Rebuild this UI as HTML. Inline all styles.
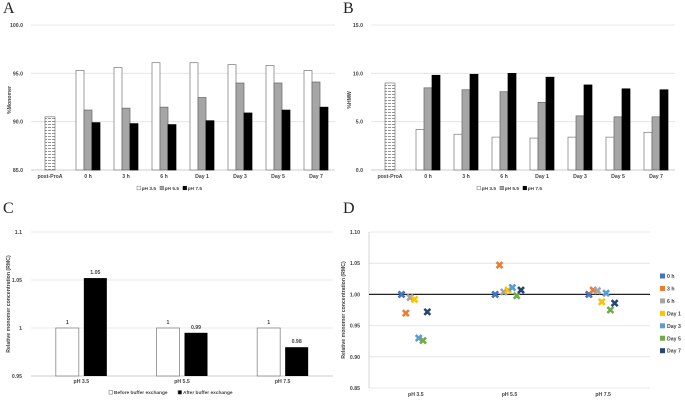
<!DOCTYPE html>
<html><head><meta charset="utf-8"><style>
body{margin:0;background:#fff;}
svg{display:block;font-family:"Liberation Sans",sans-serif;}
.t{font-size:5.2px;font-weight:bold;fill:#444;}
.lt{font-size:4.8px;font-weight:bold;fill:#444;}
.L{font-family:"Liberation Serif",serif;font-size:16px;fill:#222;}
</style></head><body>
<svg id="fig" width="685" height="400" viewBox="0 0 685 400">
<defs>
<pattern id="hatch" width="4" height="3" patternUnits="userSpaceOnUse"><rect width="4" height="3" fill="#fff"/><line x1="0" y1="1.5" x2="3" y2="1.5" stroke="#666" stroke-width="0.7"/></pattern>
</defs>
<text class="L" x="3" y="13">A</text>
<text class="L" x="343" y="13">B</text>
<text class="L" x="3" y="213">C</text>
<text class="L" x="343" y="213">D</text>
</svg>
<script>
const timeCats=["post-ProA","0 h","3 h","6 h","Day 1","Day 3","Day 5","Day 7"];
const postProA_A=[90.5];
const monoPH35=[95.3,95.6,96.1,96.1,95.9,95.8,95.3];
const monoPH55=[91.2,91.4,91.5,92.5,94.0,94.0,94.1];
const monoPH75=[89.9,89.8,89.7,90.1,90.9,91.2,91.5];
const ticksA=["85.0","90.0","95.0","100.0"];
const postProA_B=[9.0];
const hmwPH35=[4.2,3.7,3.4,3.3,3.4,3.4,3.9];
const hmwPH55=[8.5,8.3,8.1,7.0,5.6,5.5,5.5];
const hmwPH75=[9.8,9.9,10.0,9.6,8.8,8.4,8.3];
const ticksB=["0.0","5.0","10.0","15.0"];
const phCats=["pH 3.5","pH 5.5","pH 7.5"];
const beforeEx=[1,1,1];
const afterEx=[1.052,0.995,0.980];
const afterLabels=["1.05","0.99","0.98"];
const ticksC=["0.95","1","1.05","1.1"];
const dSeries=["0 h","3 h","6 h","Day 1","Day 3","Day 5","Day 7"];
const dColors=["#4472C4","#ED7D31","#A5A5A5","#FFC000","#5B9BD5","#70AD47","#264478"];
const dPH35=[1.000,0.970,0.995,0.992,0.930,0.926,0.972];
const dPH55=[1.000,1.047,1.004,1.007,1.011,0.998,1.007];
const dPH75=[1.000,1.007,1.006,0.988,1.002,0.975,0.986];
const ticksD=["0.85","0.90","0.95","1.00","1.05","1.10"];

const svg=document.getElementById('fig');
const NS="http://www.w3.org/2000/svg";
function el(tag,attrs,parent){const e=document.createElementNS(NS,tag);for(const k in attrs)e.setAttribute(k,attrs[k]);(parent||svg).appendChild(e);return e;}
function txt(s,x,y,anchor,parent,cls){const e=el('text',{x:x,y:y,'text-anchor':anchor||'middle',class:cls||'t'},parent);e.textContent=s;return e;}

function barPanel(ox,name,yMin,yMax,ticks,post,s1,s2,s3,title){
  const g=el('g',{});
  
  
  const L=ox+31,R=ox+335,T=25,B=170;
  const y=v=>B-(v-yMin)/(yMax-yMin)*(B-T);
  ticks.forEach(t=>{const v=parseFloat(t);
    const gl=el('line',{x1:L,x2:R,y1:y(v),y2:y(v),stroke:v===yMin?'#bbb':'#e0e0e0','stroke-width':0.8},g);
    
    
    const tl=txt(t,L-8,y(v)+2,'end',g);
    
    });
  const cw=(R-L)/timeCats.length;
  const cx=i=>L+cw*(i+0.5);
  timeCats.forEach((c,i)=>{const e=txt(c,cx(i),178,'middle',g);
    
    });
  const bw=8;
  const pb=el('rect',{x:cx(0)-bw/2-1,y:y(post[0]),width:bw+2,height:B-y(post[0]),fill:'url(#hatch)',stroke:'#666','stroke-width':0.6},g);
  
  
  const styles=[['#fff','#777'],['#a6a6a6','#666'],['#000','#000']];
  [s1,s2,s3].forEach((s,k)=>{s.forEach((v,i)=>{
    const x=cx(i+1)-1.5*bw+k*bw;
    const r=el('rect',{x:x,y:y(v),width:bw,height:B-y(v),fill:styles[k][0],stroke:styles[k][1],'stroke-width':0.7},g);
    
    });});
  const yt=el('text',{x:0,y:0,class:'t',transform:`translate(${ox+11},100) rotate(-90)`,'text-anchor':'middle'},g);
  yt.textContent=title;
  
  
  const lx=ox+137, ly=190, names=["pH 3.5","pH 5.5","pH 7.5"];
  names.forEach((n,k)=>{
    const lg=el('g',{},g);
    
    
    el('rect',{x:lx+k*23,y:ly-3.8,width:3.6,height:3.6,fill:styles[k][0],stroke:styles[k][1],'stroke-width':0.5},lg);
    txt(n,lx+k*23+4.6,ly,'start',lg,'lt');});
}
barPanel(0,'monomer-chart',85,100,ticksA,postProA_A,monoPH35,monoPH55,monoPH75,'%Monomer');
barPanel(340,'hmw-chart',0,15,ticksB,postProA_B,hmwPH35,hmwPH55,hmwPH75,'%HMW');

// Panel C
(function(){
  const g=el('g',{});
  
  
  const L=31,R=333,T=232,B=376,yMin=0.95,yMax=1.1;
  const y=v=>B-(v-yMin)/(yMax-yMin)*(B-T);
  ticksC.forEach(t=>{const v=parseFloat(t);
    const gl=el('line',{x1:L,x2:R,y1:y(v),y2:y(v),stroke:v===yMin?'#bbb':'#e0e0e0','stroke-width':0.8},g);
    
    
    const tl=txt(t,L-9,y(v)+2,'end',g);
    
    });
  const cw=(R-L)/phCats.length, cx=i=>L+cw*(i+0.5), bw=23;
  phCats.forEach((c,i)=>{
    const xl=txt(c,cx(i),383,'middle',g);
    
    
    const b1=el('rect',{x:cx(i)-bw-2.5,y:y(beforeEx[i]),width:bw,height:B-y(beforeEx[i]),fill:'#fff',stroke:'#777','stroke-width':0.7},g);
    
    
    const b2=el('rect',{x:cx(i)+2.5,y:y(afterEx[i]),width:bw,height:B-y(afterEx[i]),fill:'#000'},g);
    
    
    const v1=txt(String(beforeEx[i]),cx(i)-bw/2-2.5,y(beforeEx[i])-4,'middle',g);
    
    
    const v2=txt(afterLabels[i],cx(i)+bw/2+2.5,y(afterEx[i])-4,'middle',g);
    
    
  });
  const yt=el('text',{x:0,y:0,class:'t',transform:'translate(10,304) rotate(-90)','text-anchor':'middle'},g);
  yt.textContent='Relative monomer concentration (RMC)';
  
  
  [['Before buffer exchange','#fff',109],['After buffer exchange','#000',178]].forEach(a=>{
    const lg=el('g',{},g);
    
    
    el('rect',{x:a[2],y:390.5,width:3.6,height:3.6,fill:a[1],stroke:'#666','stroke-width':0.5},lg);
    txt(a[0],a[2]+5,394,'start',lg,'lt');});
})();

// Panel D
(function(){
  const g=el('g',{});
  
  
  const L=369,R=650,T=232,B=388,yMin=0.85,yMax=1.10;
  const y=v=>B-(v-yMin)/(yMax-yMin)*(B-T);
  ticksD.forEach(t=>{const v=parseFloat(t);
    const gl=el('line',{x1:L,x2:R,y1:y(v),y2:y(v),stroke:'#e0e0e0','stroke-width':0.8},g);
    
    
    const tl=txt(t,L-9,y(v)+2,'end',g);
    
    });
  const ax=el('line',{x1:L,x2:L,y1:T,y2:B,stroke:'#ccc','stroke-width':0.8},g);
  
  
  const ref=el('line',{x1:L,x2:R,y1:y(1),y2:y(1),stroke:'#222','stroke-width':1.3},g);
  
  
  const cw=(R-L)/phCats.length, cx=i=>L+cw*(i+0.5);
  const data=[dPH35,dPH55,dPH75];
  phCats.forEach((c,i)=>{
    const xl=txt(c,cx(i),396,'middle',g);
    
    
    data[i].forEach((v,s)=>{
      const px=cx(i)-14.3+s*4.3, py=y(v);
      const m=el('path',{d:`M${px-3} ${py-3}L${px+3} ${py+3}M${px+3} ${py-3}L${px-3} ${py+3}`,stroke:dColors[s],'stroke-width':2.6,fill:'none'},g);
      
      
    });
  });
  const yt=el('text',{x:0,y:0,class:'t',transform:'translate(345,310) rotate(-90)','text-anchor':'middle'},g);
  yt.textContent='Relative monomer concentration (RMC)';
  
  
  dSeries.forEach((n,s)=>{
    const lg=el('g',{},g);
    
    
    const ly=276+s*12.45;
    el('rect',{x:660,y:ly-2.5,width:5,height:5,fill:dColors[s]},lg);
    txt(n,667,ly+2,'start',lg);});
})();
</script>
</body></html>
